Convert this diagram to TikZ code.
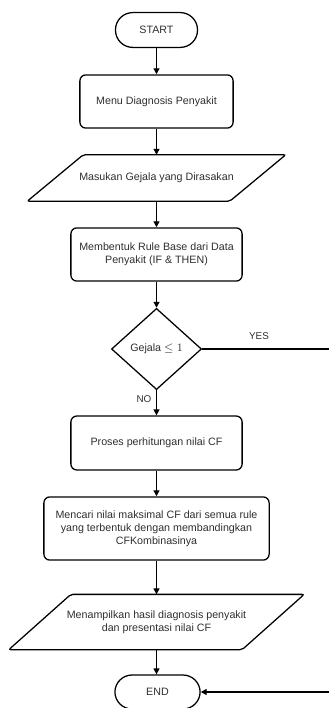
\documentclass[tikz,border=0pt]{standalone}
\usepackage{fontspec}
\setmainfont{Liberation Sans}
\usetikzlibrary{shapes.geometric,arrows.meta}

\begin{document}
\begin{tikzpicture}[x=0.025cm,y=-0.025cm,line width=0.9pt,
  font=\fontsize{7.6}{9.2}\selectfont,text=black!82,
  terminal/.style={draw,rectangle,rounded corners=0.43cm,minimum width=2.05cm,minimum height=0.87cm},
  process/.style={draw,rectangle,rounded corners=0.15cm,align=center,minimum height=1.33cm},
  ioframe/.style={rectangle,align=center},
  decision/.style={draw,diamond,inner sep=0pt,minimum width=2.25cm,minimum height=2.03cm},
  tag/.style={font=\fontsize{7}{8}\selectfont},
  flow/.style={-{Triangle[length=0.15cm,width=0.15cm]}}]
\useasboundingbox (0,0) rectangle (328,708);
\node[terminal] (start) at (156.5,30) {START};
\node[process,minimum width=3.83cm] (menu) at (156.5,101.5) {Menu Diagnosis Penyakit};
\node[ioframe,minimum width=5.03cm,minimum height=1.13cm] (input) at (156.5,178) {Masukan Gejala yang Dirasakan};
\draw[rounded corners=1.5pt] ([xshift=0.7cm]input.north west) -- ([xshift=0.7cm]input.north east)
  -- ([xshift=-0.7cm]input.south east) -- ([xshift=-0.7cm]input.south west) -- cycle;
\node[process,minimum width=4.28cm] (rule) at (156.5,254.5) {Membentuk Rule Base dari Data\\Penyakit (IF \& THEN)};
\node[decision] (cek) at (156.5,349) {Gejala $\leq 1$};
\node[process,minimum width=4.28cm,minimum height=1.35cm] (proses) at (156.5,443) {Proses perhitungan nilai CF};
\node[process,minimum width=5.63cm,minimum height=1.58cm] (maks) at (156.5,528.5) {Mencari nilai maksimal CF dari semua rule\\yang terbentuk dengan membandingkan\\CFKombinasinya};
\node[ioframe,minimum width=5.8cm,minimum height=1.35cm] (hasil) at (156.5,622) {Menampilkan hasil diagnosis penyakit\\dan presentasi nilai CF};
\draw[rounded corners=1.5pt] ([xshift=0.775cm]hasil.north west) -- ([xshift=0.775cm]hasil.north east)
  -- ([xshift=-0.775cm]hasil.south east) -- ([xshift=-0.775cm]hasil.south west) -- cycle;
\node[terminal,minimum width=2.13cm,minimum height=0.85cm] (end) at (157.5,692) {END};
\node[tag] (yes) at (259,336) {YES};
\node[tag] (no) at (144,399) {NO};
\coordinate (rside) at (345,349);
\draw[flow] (start.south) -- (menu.north);
\draw[flow] (menu.south) -- (input.north);
\draw[flow] (input.south) -- (rule.north);
\draw[flow] (rule.south) -- (cek.north);
\draw[flow] (cek.south) -- (proses.north);
\draw[flow] (proses.south) -- (maks.north);
\draw[flow] (maks.south) -- (hasil.north);
\draw[flow] (hasil.south) -- (end.north -| hasil.south);
\draw[flow] (cek.east) -- (rside) |- (end.east);
\end{tikzpicture}
\end{document}
